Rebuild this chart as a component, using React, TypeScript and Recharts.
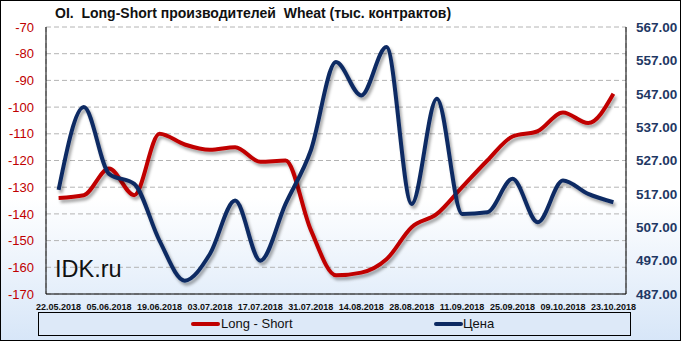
import React from 'react';
import { LineChart, Line, XAxis, YAxis, CartesianGrid } from 'recharts';

// weekly report dates
const dates = [
  '22.05.2018', '29.05.2018', '05.06.2018', '12.06.2018', '19.06.2018', '26.06.2018',
  '03.07.2018', '10.07.2018', '17.07.2018', '24.07.2018', '31.07.2018', '07.08.2018',
  '14.08.2018', '21.08.2018', '28.08.2018', '04.09.2018', '11.09.2018', '18.09.2018',
  '25.09.2018', '02.10.2018', '09.10.2018', '16.10.2018', '23.10.2018',
];

// Long - Short, thousand contracts (left axis)
const longShort = [
  -134, -133, -123, -133, -110, -114, -116, -115, -120.5, -120, -146, -163,
  -162, -157, -145, -140, -130, -120, -111, -109, -102, -106, -95,
];

// price (right axis)
const price = [
  518.2, 543, 523, 520, 503, 491, 499, 515, 497, 514, 530, 556.5,
  546.5, 561, 514, 545.5, 511, 511.5, 521.5, 508.5, 521, 517, 514.5,
];

const leftTicks = [-170, -160, -150, -140, -130, -120, -110, -100, -90, -80, -70];
const rightTicks = [487, 497, 507, 517, 527, 537, 547, 557, 567];
// week boundaries used for the vertical grid
const weekEdges = [1, 2, 3, 4, 5, 6, 7, 8, 9, 10, 11, 12, 13, 14, 15, 16, 17, 18, 19, 20, 21, 22];

const data = dates.map((date, i) => ({ date, longShort: longShort[i], price: price[i] }));

const RED = '#c00000';
const NAVY = '#0c2a63';
const FONT = '"Liberation Sans", Arial, sans-serif';

export default function App() {
  document.body.style.margin = '0';

  return (
    <div
      style={{
        position: 'relative',
        width: 681,
        height: 341,
        background: 'linear-gradient(180deg, #ffffff 0%, #ffffff 58%, #d7e6f8 100%)',
        fontFamily: FONT,
        overflow: 'hidden',
      }}
    >
      <div
        style={{
          position: 'absolute',
          left: 55,
          top: 5,
          fontSize: 14,
          fontWeight: 'bold',
          color: '#111',
          whiteSpace: 'nowrap',
        }}
      >
        OI.&nbsp; Long-Short производителей&nbsp; Wheat (тыс. контрактов)
      </div>

      <LineChart
        width={681}
        height={341}
        data={data}
        margin={{ top: 27, right: 0, bottom: 29, left: 0 }}
        style={{ position: 'absolute', left: 0, top: 0 }}
      >
        <defs>
          <filter id="lineShadow" x="-10%" y="-10%" width="120%" height="130%">
            <feDropShadow dx="2" dy="3" stdDeviation="1.4" floodColor="#000" floodOpacity="0.35" />
          </filter>
        </defs>
        <CartesianGrid
          xAxisId="grid"
          yAxisId="left"
          stroke="#b4b4b4"
          strokeDasharray="5 3"
        />
        <XAxis
          dataKey="date"
          interval={1}
          padding={{ left: 12.6, right: 12.6 }}
          height={18}
          tickLine={false}
          tickMargin={4}
          axisLine={{ stroke: '#000' }}
          tick={{ fontSize: 9, fontWeight: 'bold', fill: '#111', fontFamily: FONT }}
        />
        <XAxis
          xAxisId="grid"
          type="number"
          orientation="top"
          domain={[0, 23]}
          ticks={weekEdges}
          height={0}
          tick={false}
          tickLine={false}
          axisLine={{ stroke: '#000' }}
        />
        <YAxis
          yAxisId="left"
          domain={[-170, -70]}
          ticks={leftTicks}
          width={46}
          tickLine={false}
          tickSize={0}
          tickMargin={12}
          axisLine={{ stroke: '#000' }}
          tick={{ fontSize: 13, fill: RED, fontFamily: FONT }}
        />
        <YAxis
          yAxisId="right"
          orientation="right"
          domain={[487, 567]}
          ticks={rightTicks}
          width={55}
          tickLine={false}
          tickSize={0}
          tickMargin={10}
          axisLine={{ stroke: '#000' }}
          tickFormatter={(v: number) => v.toFixed(2)}
          tick={{ fontSize: 13.5, fontWeight: 'bold', fill: '#1f3864', fontFamily: FONT }}
        />
        <Line
          yAxisId="left"
          dataKey="longShort"
          type="monotone"
          stroke={RED}
          strokeWidth={4}
          dot={false}
          isAnimationActive={false}
          style={{ filter: 'url(#lineShadow)' }}
        />
        <Line
          yAxisId="right"
          dataKey="price"
          type="monotone"
          stroke={NAVY}
          strokeWidth={4}
          dot={false}
          isAnimationActive={false}
          style={{ filter: 'url(#lineShadow)' }}
        />
      </LineChart>

      <div
        style={{
          position: 'absolute',
          left: 55,
          top: 256,
          fontSize: 23.5,
          color: '#111',
          pointerEvents: 'none',
        }}
      >
        IDK.ru
      </div>

      <div
        style={{
          position: 'absolute',
          left: 38,
          top: 312,
          width: 593,
          height: 24,
          boxSizing: 'border-box',
          border: '1px solid #000',
          background: '#dde9f8',
          fontSize: 13,
          color: '#111',
        }}
      >
        <div style={{ position: 'absolute', left: 152, top: 9, width: 29, height: 4, borderRadius: 2, background: RED }} />
        <div style={{ position: 'absolute', left: 182, top: 3 }}>Long - Short</div>
        <div style={{ position: 'absolute', left: 395, top: 9, width: 29, height: 4, borderRadius: 2, background: NAVY }} />
        <div style={{ position: 'absolute', left: 424, top: 3 }}>Цена</div>
      </div>

      <div
        style={{
          position: 'absolute',
          inset: 0,
          border: '1px solid #000',
          pointerEvents: 'none',
        }}
      />
    </div>
  );
}
